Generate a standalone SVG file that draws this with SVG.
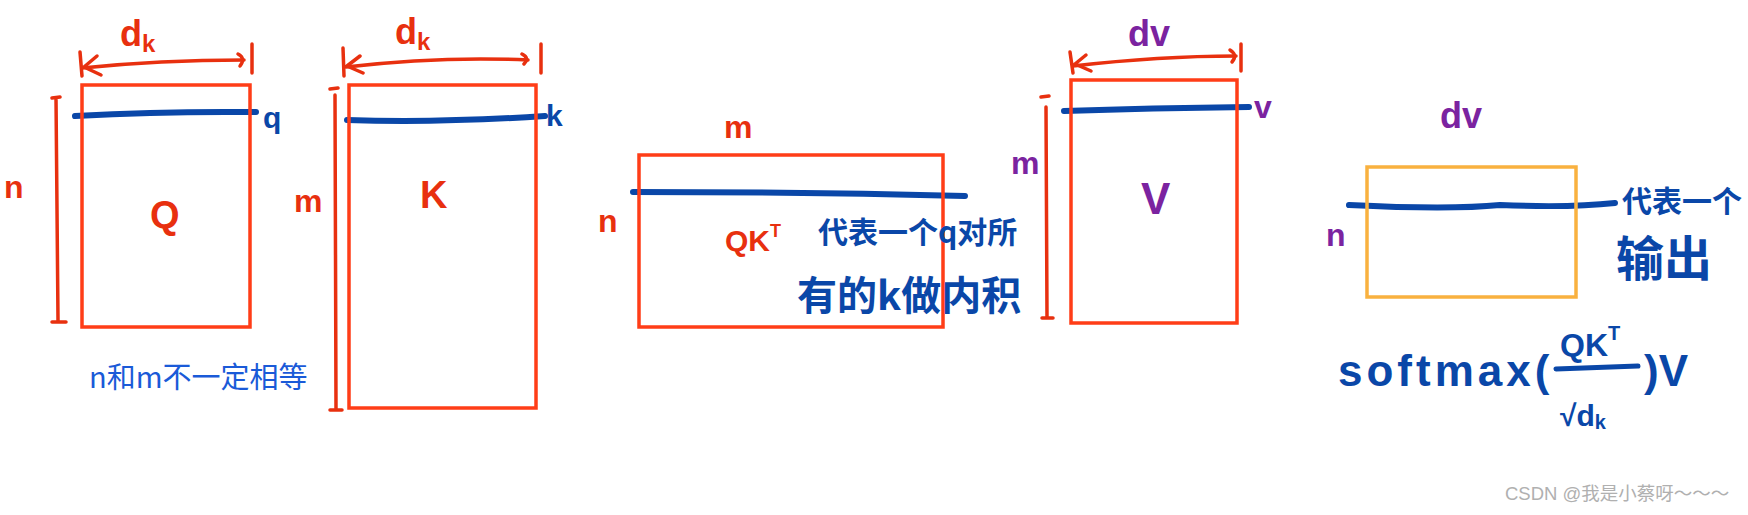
<svg xmlns="http://www.w3.org/2000/svg" width="1748" height="515" viewBox="0 0 1748 515">
<style>
.box{fill:none;stroke:#ff3d17;stroke-width:3.5}
.obox{fill:none;stroke:#f9b13f;stroke-width:3.5}
.red{fill:none;stroke:#e8300f;stroke-width:3.5;stroke-linecap:round;stroke-linejoin:round}
.blue{fill:none;stroke:#0a47a8;stroke-width:6;stroke-linecap:round}
.bline{fill:none;stroke:#0a47a8;stroke-width:5;stroke-linecap:round}
.hr{font-family:"Liberation Sans",sans-serif;font-weight:bold;fill:#e8300f}
.hp{font-family:"Liberation Sans",sans-serif;font-weight:bold;fill:#7b23a0}
.hb{font-family:"Liberation Sans","Noto Sans CJK SC",sans-serif;font-weight:bold;fill:#0a47a8}
.cn{font-family:"Noto Sans CJK SC",sans-serif;font-weight:bold;fill:#0a47a8}
</style>
<rect width="1748" height="515" fill="#ffffff"/>

<g id="connectors">
  <!-- Q width arrow -->
  <path class="red" d="M82 68 Q160 60 244 60"/>
  <path class="red" d="M80 52 L82 76 M84 67 L97 56 M84 67 L101 75 M238 54 Q246 58 240 66 M252 44 L252 73"/>
  <!-- Q height bracket -->
  <path class="red" d="M56 98 L58 320 M52 98 L60 97 M52 322 L66 322"/>
  <!-- K width arrow -->
  <path class="red" d="M346 67 Q440 56 528 60"/>
  <path class="red" d="M343 48 L344 76 M347 66 L360 56 M347 66 L363 73 M522 54 Q530 58 524 64 M541 44 L541 73"/>
  <!-- K height bracket -->
  <path class="red" d="M335 95 L336 408 M330 89 L338 88 M330 410 L342 410"/>
  <!-- V width arrow -->
  <path class="red" d="M1073 66 Q1160 56 1236 56"/>
  <path class="red" d="M1070 52 L1073 73 M1075 64 L1086 55 M1075 64 L1091 71 M1230 50 Q1238 55 1232 62 M1241 44 L1241 71"/>
  <!-- V height bracket -->
  <path class="red" d="M1046 107 L1047 317 M1041 97 L1049 96 M1042 318 L1053 318"/>
  <!-- row lines -->
  <path class="blue" d="M75 116 Q150 112 225 112 L256 112"/>
  <path class="blue" d="M347 120 Q440 123 545 116"/>
  <path class="blue" d="M633 192 Q800 192 965 196"/>
  <path class="blue" d="M1064 111 Q1150 108 1249 107"/>
  <path class="blue" d="M1349 205 Q1450 210 1500 205 Q1570 208 1615 203"/>
</g>

<g id="node-Q">
  <rect class="box" x="82" y="85" width="168" height="242"/>
  <text class="hr" x="120" y="46" font-size="36">d<tspan font-size="24" dy="6">k</tspan></text>
  <text class="hr" x="4" y="198" font-size="32">n</text>
  <text class="hr" x="150" y="228" font-size="38">Q</text>
  <text class="hb" x="263" y="128" font-size="30">q</text>
</g>

<g id="node-K">
  <rect class="box" x="349" y="85" width="187" height="323"/>
  <text class="hr" x="395" y="44" font-size="36">d<tspan font-size="24" dy="6">k</tspan></text>
  <text class="hr" x="294" y="212" font-size="32">m</text>
  <text class="hr" x="420" y="208" font-size="38">K</text>
  <text class="hb" x="546" y="126" font-size="30">k</text>
</g>

<text x="89" y="388" font-family="Noto Sans CJK SC,sans-serif" font-size="29" fill="#1a5ad8">n和m不一定相等</text>

<g id="node-QKT">
  <rect class="box" x="639" y="155" width="304" height="172"/>
  <text class="hr" x="724" y="138" font-size="32">m</text>
  <text class="hr" x="598" y="232" font-size="32">n</text>
  <text class="hr" x="725" y="251" font-size="30">QK<tspan font-size="18" dy="-14">T</tspan></text>
  <text class="cn" x="818" y="243" font-size="30">代表一个q对所</text>
  <text class="cn" x="797" y="310" font-size="40">有的k做内积</text>
</g>

<g id="node-V">
  <rect class="box" x="1071" y="80" width="166" height="243"/>
  <text class="hp" x="1128" y="46" font-size="36">dv</text>
  <text class="hp" x="1011" y="174" font-size="32">m</text>
  <text class="hp" x="1254" y="118" font-size="32">v</text>
  <text class="hp" x="1141" y="214" font-size="44">V</text>
</g>

<g id="node-output">
  <rect class="obox" x="1367" y="167" width="209" height="130"/>
  <text class="hp" x="1440" y="128" font-size="36">dv</text>
  <text class="hp" x="1326" y="246" font-size="32">n</text>
  <text class="cn" x="1622" y="212" font-size="30">代表一个</text>
  <text class="cn" x="1616" y="276" font-size="48">输出</text>
  <text class="hb" x="1338" y="386" font-size="44" letter-spacing="4">softmax(</text>
  <text class="hb" x="1560" y="356" font-size="32">QK<tspan font-size="20" dy="-16">T</tspan></text>
  <path class="bline" d="M1556 369 L1638 366"/>
  <text class="hb" x="1560" y="426" font-size="30">√d<tspan font-size="20" dy="3">k</tspan></text>
  <text class="hb" x="1644" y="386" font-size="44">)V</text>
</g>

<text x="1505" y="500" font-family="Liberation Sans,Noto Sans CJK SC,sans-serif" font-size="18.5" fill="#b0b0b0">CSDN @我是小蔡呀～～～</text>
</svg>
